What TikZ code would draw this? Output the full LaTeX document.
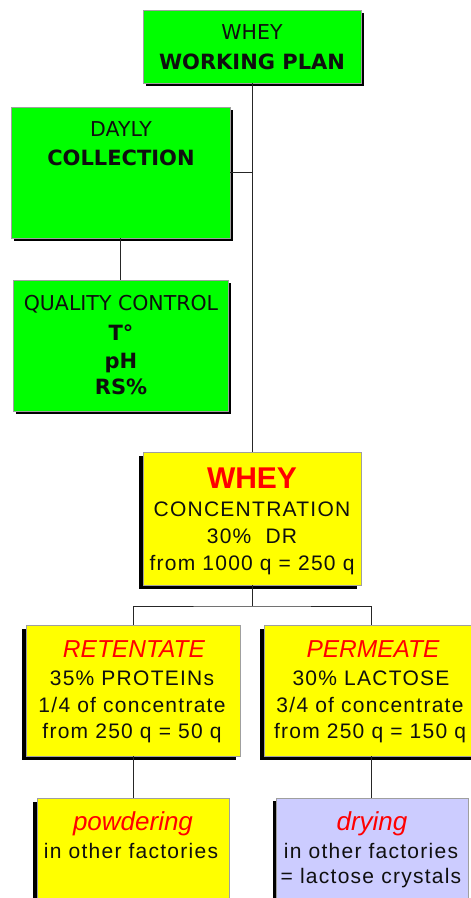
\documentclass[tikz,border=0pt]{standalone}
\usepackage{fontspec}
\setmainfont{Liberation Sans}
\newfontfamily\dvfont{DejaVu Sans}
\newfontfamily\lsfont[LetterSpace=6]{Liberation Sans}
\usetikzlibrary{shadows}
\definecolor{boxgreen}{RGB}{0,255,0}
\definecolor{boxyellow}{RGB}{255,255,0}
\definecolor{boxlav}{RGB}{204,204,255}
\definecolor{boxred}{RGB}{255,0,0}
\definecolor{txtdark}{RGB}{15,15,15}
\begin{document}
\begin{tikzpicture}[x=1pt,y=-1pt,
  basebox/.style={draw=gray!75, line width=0.9pt, inner sep=0pt},
  greenbox/.style={basebox, fill=boxgreen,
    general shadow={fill=black, shadow xshift=3pt, shadow yshift=-3pt}},
  yellowbox/.style={basebox, fill=boxyellow,
    general shadow={fill=black, shadow xshift=-4pt, shadow yshift=-4pt}},
  lavbox/.style={basebox, fill=boxlav,
    general shadow={fill=black, shadow xshift=-3pt, shadow yshift=-3pt}},
  link/.style={draw=black!85, line width=0.9pt},
  gtxt/.style={anchor=base, inner sep=0pt, text=txtdark, font=\dvfont\fontsize{20.5}{24}\selectfont},
  gbold/.style={gtxt, font=\dvfont\bfseries\fontsize{21}{24}\selectfont},
  ytxt/.style={anchor=base, inner sep=0pt, text=txtdark, font=\lsfont\fontsize{21}{24}\selectfont},
  rtitle/.style={anchor=base, inner sep=0pt, text=boxred, font=\itshape\fontsize{24.5}{28}\selectfont},
  rsmall/.style={anchor=base, inner sep=0pt, text=boxred, font=\itshape\fontsize{26}{28}\selectfont},
  rbig/.style={anchor=base, inner sep=0pt, text=boxred, font=\bfseries\fontsize{30}{34}\selectfont}
]
\useasboundingbox (0,0) rectangle (471,898);

% boxes
\node[greenbox, minimum width=218pt, minimum height=73pt] (top) at (252,46.5) {};
\node[greenbox, minimum width=219pt, minimum height=131pt] (dayly) at (120.5,172.5) {};
\node[greenbox, minimum width=215pt, minimum height=131pt] (qc) at (120.5,345.5) {};
\node[yellowbox, minimum width=218pt, minimum height=133pt] (whey) at (252,518.5) {};
\node[yellowbox, minimum width=214pt, minimum height=131pt] (ret) at (133,690.5) {};
\node[yellowbox, minimum width=214pt, minimum height=131pt] (perm) at (371,690.5) {};
\node[yellowbox, minimum width=192pt, minimum height=120pt] (pow) at (133,858) {};
\node[lavbox, minimum width=192pt, minimum height=120pt] (dry) at (372,858) {};

% connectors
\coordinate (j) at (252,606);
\draw[link] (top.south) -- (whey.north);
\draw[link] (dayly.east) -- (dayly.east -| top.south);
\draw[link] (dayly.south) -- (qc.north);
\draw[link] (whey.south) -- (j);
\draw[link] (ret.north) |- (j) -| (perm.north);
\draw[link] (ret.south) -- (ret.south |- pow.north);
\draw[link] (perm.south) -- (perm.south |- dry.north);

% texts
\node[gtxt] (t1) at (252,39) {WHEY};
\node[gbold] (t2) at (252,69) {WORKING PLAN};
\node[gtxt] (d1) at (121,136) {DAYLY};
\node[gbold] (d2) at (121,165) {COLLECTION};
\node[gtxt] (q1) at (121,310) {QUALITY CONTROL};
\node[gbold] (q2) at (121,340) {T°};
\node[gbold] (q3) at (121,368) {pH};
\node[gbold] (q4) at (121,394) {RS\%};

\node[rbig] (w1) at (252,488) {WHEY};
\node[ytxt] (w2) at (252,516) {CONCENTRATION};
\node[ytxt] (w3) at (252,543) {30\%\ \ DR};
\node[ytxt] (w4) at (252,570) {from 1000 q = 250 q};

\node[rtitle] (r1) at (134,657) {RETENTATE};
\node[ytxt] (r2) at (132,685) {35\% PROTEINs};
\node[ytxt] (r3) at (132,712) {1/4 of concentrate};
\node[ytxt] (r4) at (132,738) {from 250 q = 50 q};

\node[rtitle] (p1) at (373,657) {PERMEATE};
\node[ytxt] (p2) at (371,685) {30\% LACTOSE};
\node[ytxt] (p3) at (370,712) {3/4 of concentrate};
\node[ytxt] (p4) at (370,738) {from 250 q = 150 q};

\node[rsmall] (o1) at (133,830) {powdering};
\node[ytxt] (o2) at (131,858) {in other factories};

\node[rsmall] (y1) at (372,830) {drying};
\node[ytxt] (y2) at (371,858) {in other factories};
\node[ytxt] (y3) at (371,883) {= lactose crystals};
\end{tikzpicture}
\end{document}
